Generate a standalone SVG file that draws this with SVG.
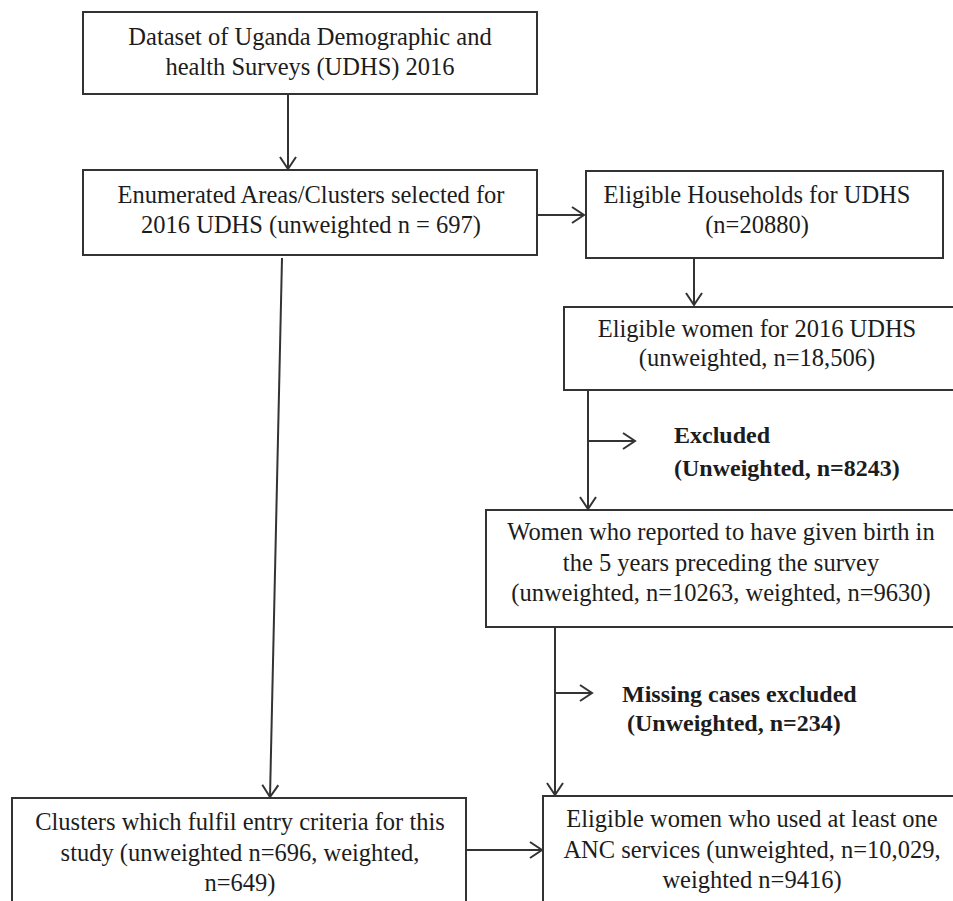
<svg xmlns="http://www.w3.org/2000/svg" width="953" height="901" viewBox="0 0 953 901">
<style>
.box{fill:#ffffff;stroke:#333333;stroke-width:2}
.t{font-family:"Liberation Serif","Times New Roman",serif;font-size:24.5px;fill:#1c1c1c;text-anchor:middle}
.b{font-family:"Liberation Serif","Times New Roman",serif;font-size:24px;font-weight:bold;fill:#1c1c1c}
.c{fill:none;stroke:#333333;stroke-width:2}
</style>
<defs>
<marker id="arr" markerUnits="userSpaceOnUse" markerWidth="16" markerHeight="20" refX="13" refY="9" orient="auto">
<path d="M1,1 L13,9 L1,17" fill="none" stroke="#333333" stroke-width="2"/>
</marker>
</defs>
<rect width="953" height="901" fill="#ffffff"/>
<g id="connectors">
<line class="c" x1="288" y1="94" x2="288" y2="169" marker-end="url(#arr)"/>
<line class="c" x1="537" y1="215" x2="584" y2="215" marker-end="url(#arr)"/>
<line class="c" x1="694" y1="258" x2="694" y2="305" marker-end="url(#arr)"/>
<line class="c" x1="588" y1="390" x2="588" y2="509" marker-end="url(#arr)"/>
<line class="c" x1="588" y1="441" x2="635" y2="441" marker-end="url(#arr)"/>
<line class="c" x1="282" y1="258" x2="270" y2="797" marker-end="url(#arr)"/>
<line class="c" x1="555" y1="627" x2="555" y2="795" marker-end="url(#arr)"/>
<line class="c" x1="555" y1="693" x2="592" y2="693" marker-end="url(#arr)"/>
<line class="c" x1="466" y1="850" x2="542" y2="850" marker-end="url(#arr)"/>
</g>
<g id="n1">
<rect class="box" x="83" y="12" width="454" height="82"/>
<text class="t" x="310" y="45">Dataset of Uganda Demographic and</text>
<text class="t" x="310" y="75">health Surveys (UDHS) 2016</text>
</g>
<g id="n2">
<rect class="box" x="83" y="170" width="454" height="85"/>
<text class="t" x="311" y="203">Enumerated  Areas/Clusters selected  for</text>
<text class="t" x="311" y="233">2016 UDHS (unweighted n = 697)</text>
</g>
<g id="n3">
<rect class="box" x="586" y="171" width="357" height="87"/>
<text class="t" x="757" y="203">Eligible  Households for UDHS</text>
<text class="t" x="757" y="233">(n=20880)</text>
</g>
<g id="n4">
<rect class="box" x="564" y="307" width="400" height="83"/>
<text class="t" x="757" y="337">Eligible  women for 2016 UDHS</text>
<text class="t" x="757" y="366">(unweighted, n=18,506)</text>
</g>
<g id="excl1">
<text class="b" x="674" y="443">Excluded</text>
<text class="b" x="674" y="476">(Unweighted, n=8243)</text>
</g>
<g id="n5">
<rect class="box" x="486" y="510" width="480" height="117"/>
<text class="t" x="721" y="540">Women who reported to have given birth in</text>
<text class="t" x="721" y="571">the 5 years preceding  the survey</text>
<text class="t" x="721" y="601">(unweighted, n=10263, weighted, n=9630)</text>
</g>
<g id="excl2">
<text class="b" x="622" y="702">Missing cases excluded</text>
<text class="b" x="627" y="731">(Unweighted, n=234)</text>
</g>
<g id="n6">
<rect class="box" x="12" y="798" width="454" height="120"/>
<text class="t" x="240" y="830">Clusters which fulfil entry criteria  for this</text>
<text class="t" x="240" y="861">study (unweighted n=696, weighted,</text>
<text class="t" x="240" y="891">n=649)</text>
</g>
<g id="n7">
<rect class="box" x="543" y="796" width="420" height="120"/>
<text class="t" x="752" y="827">Eligible  women who used at least one</text>
<text class="t" x="752" y="858">ANC services (unweighted, n=10,029,</text>
<text class="t" x="752" y="888">weighted n=9416)</text>
</g>
</svg>
